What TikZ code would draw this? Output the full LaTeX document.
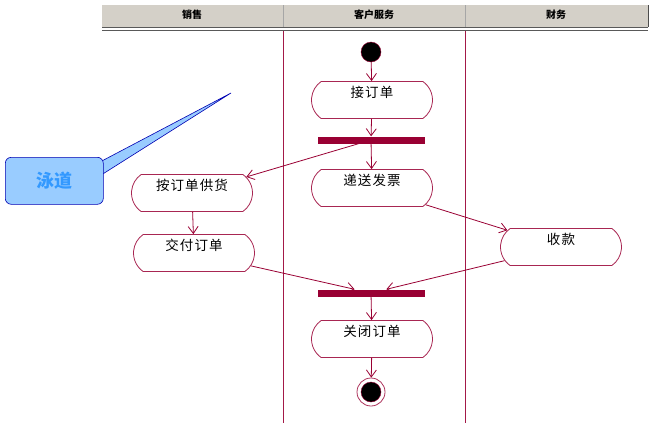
\documentclass[tikz,border=0pt]{standalone}
\usepackage{fontspec}
\newfontfamily\cjk{Noto Sans CJK SC}
\newfontfamily\cjkwide[LetterSpace=8]{Noto Sans CJK SC}
\usepackage{tikz}
\usetikzlibrary{arrows.meta,shapes.misc}

\definecolor{umlred}{RGB}{153,0,51}
\definecolor{headgray}{RGB}{212,208,200}
\definecolor{noteblue}{RGB}{153,204,255}
\definecolor{notetext}{RGB}{51,153,255}

\begin{document}
\begin{tikzpicture}[x=1pt, y=-1pt, >={Straight Barb[length=7pt,width=10pt]},
	activity/.style={draw=umlred!85, line width=0.8pt, rounded rectangle, rounded rectangle arc length=110,
		minimum width=125pt, minimum height=37pt, inner sep=2pt, text height=11pt, text depth=17pt,
		font=\cjkwide\fontsize{13.5}{13.5}\selectfont},
	bar/.style={fill=umlred, draw=none, minimum width=107pt, minimum height=7pt, inner sep=0pt},
	flow/.style={->, draw=umlred, line width=0.8pt},
	lanehead/.style={font=\cjk\fontsize{10}{10}\selectfont\bfseries}]
	\useasboundingbox (0,0) rectangle (657,432);
	% swimlane header
	\fill[headgray] (102,5) rectangle (648,27);
	\draw[gray!70!black, line width=1.2pt] (102,27.5) -- (648,27.5);
	\draw[gray!70!black, line width=1pt] (102,30.5) -- (648,30.5);
	\draw[gray!60!black] (648,5) -- (648,27);
	\foreach \x in {283,465}
		\draw[gray!70] (\x,5) -- (\x,27);
	\node[lanehead] (sales) at (192,15) {销售};
	\node[lanehead] (service) at (374,15) {客户服务};
	\node[lanehead] (finance) at (556,15) {财务};
	\foreach \x in {283,465}
		\draw[umlred!90, line width=0.8pt] (\x,31) -- (\x,423);
	% callout
	\filldraw[fill=noteblue, draw=blue!70!black, line width=0.6pt] (98,163) -- (231,93) -- (98,177) -- cycle;
	\node[fill=noteblue, draw=blue!70!black, line width=0.6pt, rounded corners=6pt, minimum width=98pt, minimum height=47pt,
		font=\cjk\fontsize{18}{18}\selectfont\bfseries, text=notetext, anchor=north west] (lane) at (5,157) {泳道};
	% activities
	\node[circle, fill=black, draw=umlred, minimum size=20pt, inner sep=0pt] (start) at (371,52) {};
	\node[activity] (take) at (372,100) {接订单};
	\node[bar] (fork) at (371,140) {};
	\node[activity] (invoice) at (372,188) {递送发票};
	\node[activity] (supply) at (192,193) {按订单供货};
	\node[activity] (deliver) at (194,253) {交付订单};
	\node[activity] (pay) at (561,247) {收款};
	\node[bar] (join) at (371,293) {};
	\node[activity] (close) at (372,339) {关闭订单};
	\node[circle, draw=umlred!80, line width=0.8pt, minimum size=28pt, inner sep=0pt] (stop) at (371,392) {};
	\node[circle, fill=black, draw=umlred, minimum size=20pt, inner sep=0pt] at (stop) {};
	% flows
	\draw[flow] (start) -- (take);
	\draw[flow] (take) -- (fork);
	\draw[flow] (fork) -- (invoice);
	\draw[flow] (fork) -- (supply);
	\draw[flow] (supply) -- (deliver);
	\draw[flow] (invoice) -- (pay);
	\draw[flow] (deliver) -- (join);
	\draw[flow] (pay) -- (join);
	\draw[flow] (join) -- (close);
	\draw[flow] (close) -- (stop);
\end{tikzpicture}
\end{document}
